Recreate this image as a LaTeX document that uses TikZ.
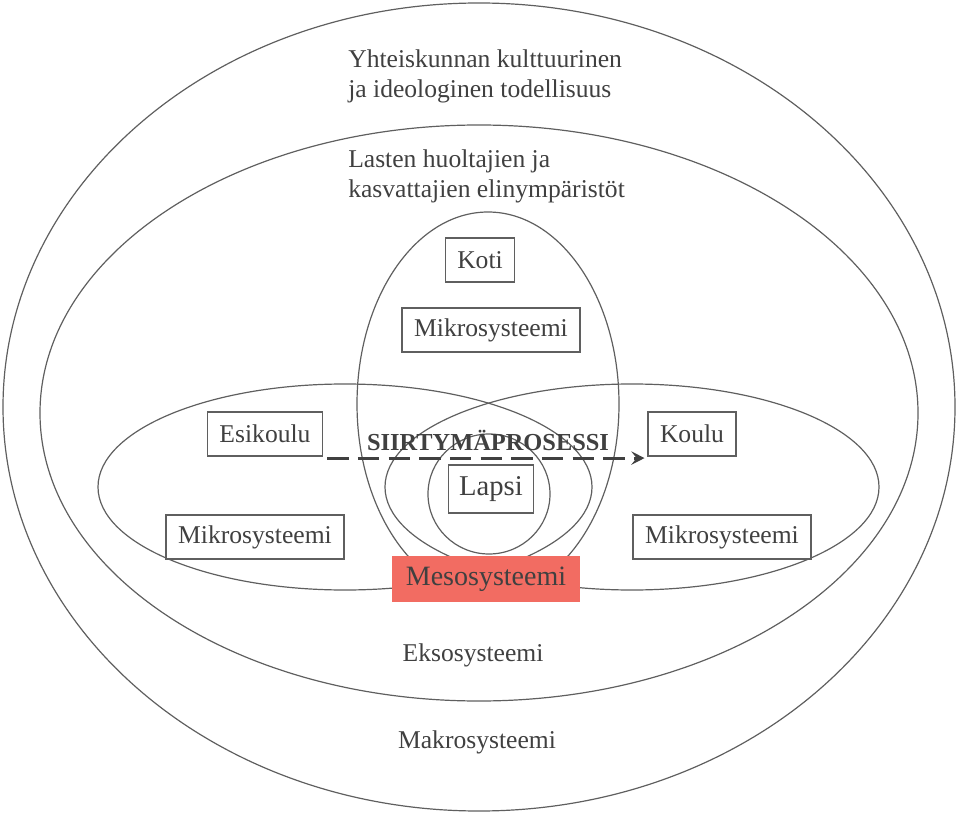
\documentclass[tikz,border=0pt]{standalone}
\usepackage{fontspec}
\setmainfont{Liberation Serif}
\usetikzlibrary{arrows.meta, positioning}
\definecolor{mesored}{RGB}{242,108,98}
\definecolor{linegray}{RGB}{95,95,95}
\definecolor{textgray}{RGB}{64,64,64}
\newcommand{\txt}{\fontsize{19.2}{22.5}\selectfont}

\begin{document}
\begin{tikzpicture}[x=0.75pt, y=-0.75pt,
		ring/.style={draw=linegray, line width=0.9pt},
		sysbox/.style={draw=linegray, line width=1.1pt, fill=white, text=textgray, font=\txt, inner xsep=9pt, minimum height=33pt},
		plain/.style={text=textgray, font=\txt, align=left, inner sep=0pt}]
	\useasboundingbox (0,0) rectangle (956,816);
	% ellipses, outside in
	\draw[ring] (479,407) ellipse [x radius=476, y radius=404];
	\draw[ring] (479,413) ellipse [x radius=439, y radius=288];
	\draw[ring] (488,404) ellipse [x radius=131, y radius=192];
	\draw[ring] (345,487) ellipse [x radius=247, y radius=103];
	\draw[ring] (632,487) ellipse [x radius=247, y radius=103];
	\draw[ring] (489,494) ellipse [x radius=61, y radius=60];
	% texts
	\node[plain, anchor=west] (yht) at (348,76) {Yhteiskunnan kulttuurinen\\ja ideologinen todellisuus};
	\node[plain, anchor=west] (lasten) at (348,176) {Lasten huoltajien ja\\kasvattajien elinympäristöt};
	\node[sysbox] (koti) at (480,260) {Koti};
	\node[sysbox] (mkoti) at (491,330) {Mikrosysteemi};
	\node[sysbox] (esik) at (265,434) {Esikoulu};
	\node[sysbox] (mesik) at (255,537) {Mikrosysteemi};
	\node[sysbox] (koulu) at (692,434) {Koulu};
	\node[sysbox] (mkoulu) at (722,537) {Mikrosysteemi};
	\node[sysbox, font=\fontsize{21.5}{24}\selectfont, inner xsep=8pt, minimum height=36pt] (lapsi) at (491,489) {Lapsi};
	\node[fill=mesored, text=textgray, font=\fontsize{21}{24}\selectfont, minimum width=141pt, minimum height=34.5pt] (meso) at (486,579) {Mesosysteemi};
	\node[text=textgray, font=\fontsize{18.3}{22}\selectfont\bfseries, inner sep=0pt] (siirt) at (488,440) {SIIRTYMÄPROSESSI};
	\node[plain] (ekso) at (473,655) {Eksosysteemi};
	\node[plain] (makro) at (477,742) {Makrosysteemi};
	% transition arrow
	\draw[draw=textgray, line width=2.2pt, dash pattern=on 16pt off 7pt, -{Stealth[length=10pt, width=10pt, inset=4pt]}]
		([xshift=3pt, yshift=-1pt]esik.south east) -- ([xshift=-2pt, yshift=-1pt]koulu.south west);
\end{tikzpicture}
\end{document}
